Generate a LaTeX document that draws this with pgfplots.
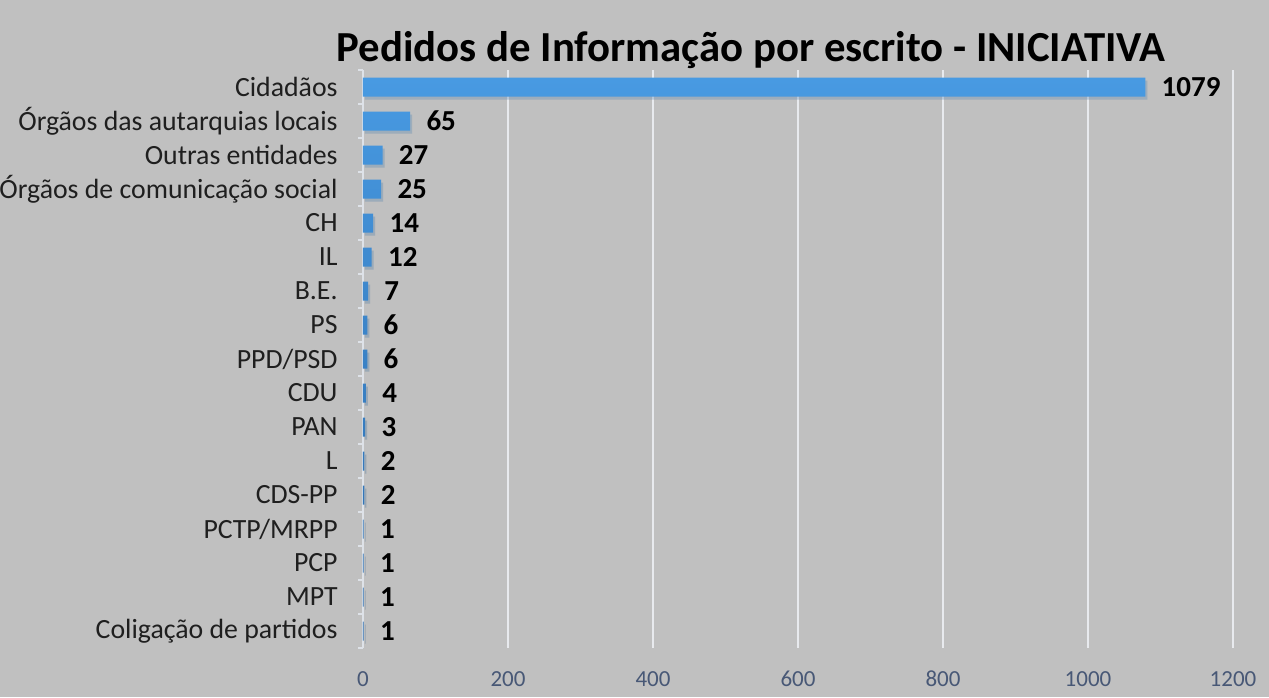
\documentclass[border=0pt]{standalone}
\usepackage{pgfplots}
\pgfplotsset{compat=1.18}
\usepackage{fontspec}
\setmainfont{Carlito}
\usetikzlibrary{shadows}

\definecolor{bg}{RGB}{192,192,192}
\definecolor{bartop}{RGB}{72,154,226}
\definecolor{barbot}{RGB}{44,106,170}
\definecolor{ticktxt}{RGB}{72,88,118}
\definecolor{axln}{RGB}{222,226,232}
\definecolor{gridc}{RGB}{232,234,238}

\begin{document}
\begin{tikzpicture}
% background of the whole chart
\fill[bg] (-181.5pt,-24.5pt) rectangle (453pt,324pt);
\begin{axis}[
    at={(0pt,0pt)}, anchor=south west,
    scale only axis,
    width=435pt, height=289pt,
    xmin=0, xmax=1200,
    ymin=-0.5, ymax=16.5,
    y dir=reverse,
    xbar, bar width=9.5pt,
    axis x line*=bottom, axis y line*=left,
    x axis line style={draw=none},
    y axis line style={draw=axln, line width=0.8pt},
    xtick={0,200,...,1200},
    ytick={0,...,16},
    yticklabels={Cidadãos, Órgãos das autarquias locais, Outras entidades,
        Órgãos de comunicação social, CH, IL, B.E., PS, PPD/PSD, CDU, PAN,
        L, CDS-PP, PCTP/MRPP, PCP, MPT, Coligação de partidos},
    major tick length=0pt,
    extra y ticks={-0.5,0.5,...,16.5},
    extra y tick labels={},
    extra tick style={major tick length=2.5pt, tick align=outside,
        tick style={draw=axln, line width=0.8pt}, grid=none},
    xmajorgrids,
    grid style={gridc, line width=0.8pt},
    /pgf/number format/assume math mode=true,
    /pgf/number format/1000 sep={},
    xticklabel style={font=\fontsize{11.5}{12}\selectfont, text=ticktxt,
        anchor=base, inner sep=0pt, yshift=-19pt},
    yticklabel style={font=\fontsize{13.9}{15}\selectfont, text=black!88,
        anchor=east, inner sep=0pt, xshift=-12.5pt},
    nodes near coords,
    nodes near coords style={font=\bfseries\fontsize{14.5}{15}\selectfont,
        anchor=west, inner sep=0pt, xshift=8pt, text=black},
]
\addplot[draw=none, top color=bartop, bottom color=barbot,
    drop shadow={shadow xshift=1pt, shadow yshift=-1.5pt, opacity=0.2}]
    coordinates {
    (1079,0) (65,1) (27,2) (25,3) (14,4) (12,5) (7,6) (6,7) (6,8)
    (4,9) (3,10) (2,11) (2,12) (1,13) (1,14) (1,15) (1,16)
    };
\end{axis}
\node[anchor=base, inner sep=0pt, font=\bfseries\fontsize{21.4}{22}\selectfont]
    at (194pt,293pt) {Pedidos de Informação por escrito - INICIATIVA};
\pgfresetboundingbox
\path[use as bounding box] (-181.5pt,-24.5pt) rectangle (453pt,324pt);
\end{tikzpicture}
\end{document}
